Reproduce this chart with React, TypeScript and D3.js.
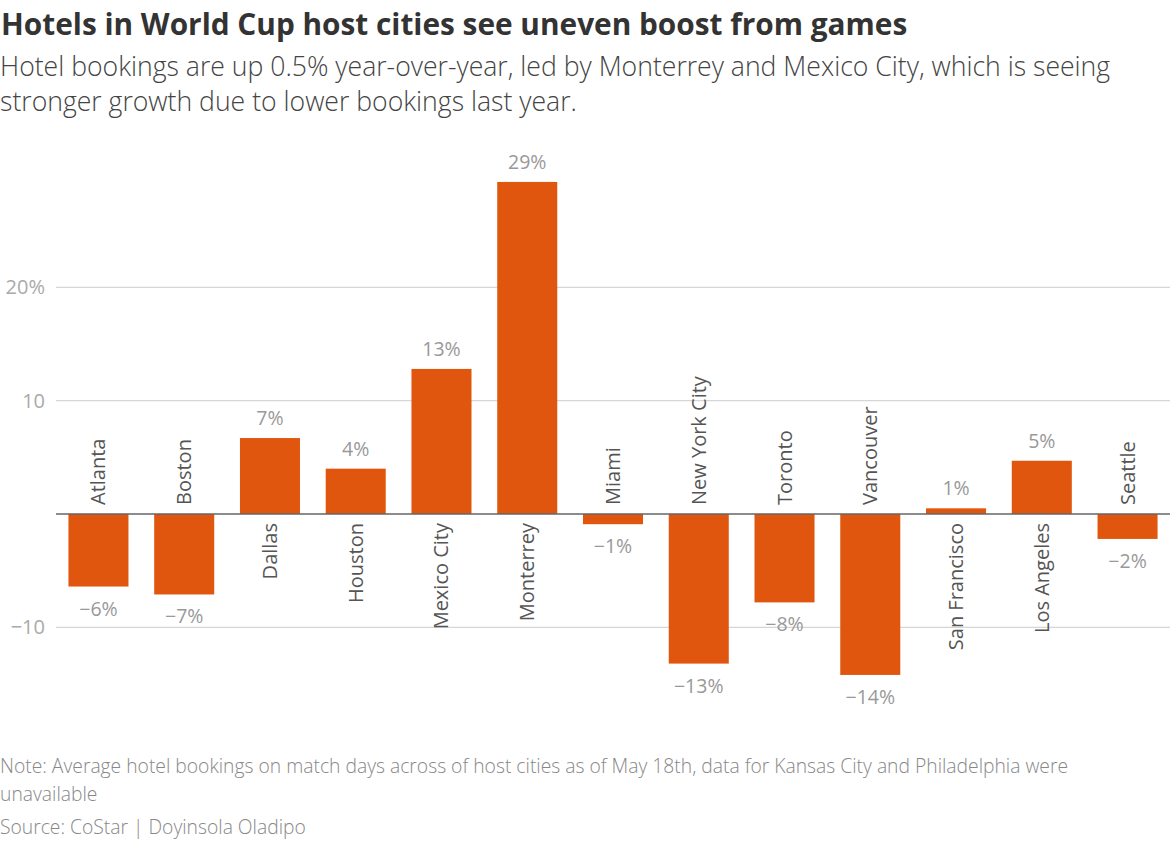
import React from 'react';
import * as d3 from 'd3';

const cities = ['Atlanta', 'Boston', 'Dallas', 'Houston', 'Mexico City', 'Monterrey', 'Miami', 'New York City', 'Toronto', 'Vancouver', 'San Francisco', 'Los Angeles', 'Seattle'];
const changes = [-6.4, -7.1, 6.7, 4.0, 12.8, 29.3, -0.9, -13.2, -7.8, -14.2, 0.5, 4.7, -2.2];
const valueLabels = ['−6%', '−7%', '7%', '4%', '13%', '29%', '−1%', '−13%', '−8%', '−14%', '1%', '5%', '−2%'];
const gridTicks = [-10, 10, 20];
const tickLabels = ['−10', '10', '20%'];

const W = 1170;
const H = 842;
const FONT = "'Open Sans', sans-serif";

export default function App() {
  // zero sits at 514, 10 points = ~113px
  const y = d3.scaleLinear().domain([-15, 30]).range([684, 174]);
  const x = d3.scaleBand<string>().domain(cities).range([56, 1170]).paddingInner(0.3).paddingOuter(0.145);
  const zero = y(0);

  return (
    <svg width={W} height={H} style={{ position: 'absolute', left: 0, top: 0, background: '#fff' }} fontFamily={FONT}>
      <text x={1} y={35} fontSize={29.8} fontWeight={700} fill="#333">Hotels in World Cup host cities see uneven boost from games</text>
      <text x={0} y={76} fontSize={26.6} fontWeight={300} fill="#444">Hotel bookings are up 0.5% year-over-year, led by Monterrey and Mexico City, which is seeing</text>
      <text x={0} y={111} fontSize={26.6} fontWeight={300} fill="#444">stronger growth due to lower bookings last year.</text>

      {/* grid */}
      {gridTicks.map((t, i) => (
        <g key={t}>
          <line x1={56} x2={W} y1={y(t)} y2={y(t)} stroke="#d6d6d6" strokeWidth={1.3} />
          <text x={45} y={y(t)} dy="0.35em" textAnchor="end" fontSize={20} fill="#aaa">{tickLabels[i]}</text>
        </g>
      ))}

      {cities.map((c, i) => {
        const v = changes[i];
        const bx = x(c)!;
        const cx = bx + x.bandwidth() / 2;
        return (
          <g key={c}>
            <rect x={bx} width={x.bandwidth()} y={Math.min(y(v), zero)} height={Math.abs(y(v) - zero)} fill="#e0560f" />
            <text x={cx} y={v >= 0 ? y(v) - 13 : y(v) + 29} textAnchor="middle" fontSize={19.5} fill="#999">{valueLabels[i]}</text>
            <text transform={`translate(${cx},${v >= 0 ? zero + 9 : zero - 9}) rotate(-90)`} textAnchor={v >= 0 ? 'end' : 'start'}
              dy="0.35em" fontSize={20} fill="#555">{c}</text>
          </g>
        );
      })}

      <line x1={56} x2={W} y1={zero} y2={zero} stroke="#666" strokeWidth={1.6} />

      <text x={0} y={773} fontSize={19.3} fontWeight={300} fill="#888">Note: Average hotel bookings on match days across of host cities as of May 18th, data for Kansas City and Philadelphia were</text>
      <text x={0} y={801} fontSize={19.3} fontWeight={300} fill="#888">unavailable</text>
      <text x={0} y={834} fontSize={19.3} fontWeight={300} fill="#888">Source: CoStar | Doyinsola Oladipo</text>
    </svg>
  );
}
